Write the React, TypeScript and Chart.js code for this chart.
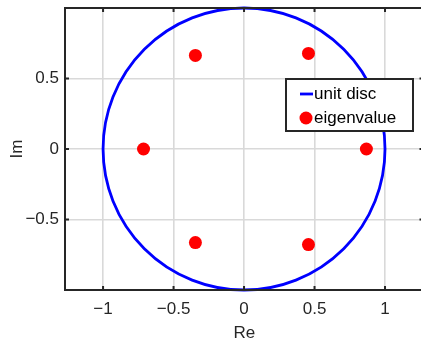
import React, { useEffect, useRef } from "react";
import { Chart, registerables } from "chart.js";

Chart.register(...registerables);

// ---- data ----
const eigenRe: number[] = [-0.713, -0.345, -0.345, 0.457, 0.457, 0.868];
const eigenIm: number[] = [0, 0.664, -0.664, 0.678, -0.678, 0];
const discCenter = { x: 0, y: 0 };
const discRadius = 1;
const xTickValues: number[] = [-1, -0.5, 0, 0.5, 1];
const yTickValues: number[] = [-0.5, 0, 0.5];
const seriesLabels: string[] = ["unit disc", "eigenvalue"];
const xTitle = "Re";
const yTitle = "Im";

const FONT = "'Liberation Sans', Arial, sans-serif";
const TXT = "#262626";

const fmt = (v: number) => (v < 0 ? "\u2212" + String(Math.abs(v)) : String(v));

const boxPlugin = {
  id: "matlabBox",
  afterDatasetsDraw(chart: any) {
    const { ctx, chartArea: a, scales } = chart;
    ctx.save();
    // tick marks (inward)
    ctx.strokeStyle = TXT;
    ctx.lineWidth = 2;
    const tl = 4;
    for (const v of xTickValues) {
      const px = scales.x.getPixelForValue(v);
      ctx.beginPath();
      ctx.moveTo(px, a.bottom);
      ctx.lineTo(px, a.bottom - tl);
      ctx.moveTo(px, a.top);
      ctx.lineTo(px, a.top + tl);
      ctx.stroke();
    }
    for (const v of yTickValues) {
      const py = scales.y.getPixelForValue(v);
      ctx.beginPath();
      ctx.moveTo(a.left, py);
      ctx.lineTo(a.left + tl, py);
      ctx.moveTo(a.right, py);
      ctx.lineTo(a.right - tl, py);
      ctx.stroke();
    }
    // box
    ctx.lineWidth = 2;
    ctx.strokeRect(a.left, a.top, a.right - a.left, a.bottom - a.top);

    // legend
    const ds = chart.data.datasets;
    const lx = 286;
    const ly = a.top + 71;
    const lw = 127;
    const lh = 52;
    ctx.fillStyle = "#ffffff";
    ctx.fillRect(lx, ly, lw, lh);
    ctx.lineWidth = 2;
    ctx.strokeStyle = TXT;
    ctx.strokeRect(lx, ly, lw, lh);
    const row1 = ly + 15;
    const row2 = ly + 39;
    // line sample
    ctx.strokeStyle = ds[0].pointBorderColor;
    ctx.lineWidth = 2.8;
    ctx.beginPath();
    ctx.moveTo(lx + 14, row1);
    ctx.lineTo(lx + 27, row1);
    ctx.stroke();
    // dot sample
    ctx.fillStyle = ds[1].pointBackgroundColor;
    ctx.beginPath();
    ctx.arc(lx + 20, row2, 6.5, 0, Math.PI * 2);
    ctx.fill();
    ctx.fillStyle = "#000000";
    ctx.font = `17px ${FONT}`;
    ctx.textBaseline = "middle";
    ctx.textAlign = "left";
    ctx.fillText(ds[0].label, lx + 28, row1);
    ctx.fillText(ds[1].label, lx + 28, row2);
    ctx.restore();
  },
};

export default function App() {
  const ref = useRef<HTMLCanvasElement | null>(null);
  useEffect(() => {
    if (!ref.current) return;
    const discPx = (c: any) => {
      const s = c.chart.scales.x;
      return s.getPixelForValue(discRadius) - s.getPixelForValue(0);
    };
    const chart = new Chart(ref.current, {
      type: "scatter",
      data: {
        datasets: [
          {
            label: seriesLabels[0],
            data: [discCenter],
            pointRadius: discPx,
            pointHoverRadius: discPx,
            pointBackgroundColor: "rgba(0,0,0,0)",
            pointBorderColor: "#0000ff",
            pointBorderWidth: 2.8,
            clip: false,
          } as any,
          {
            label: seriesLabels[1],
            data: eigenRe.map((x, i) => ({ x, y: eigenIm[i] })),
            pointRadius: 6.5,
            pointHoverRadius: 6.5,
            pointBackgroundColor: "#ff0000",
            pointBorderWidth: 0,
          } as any,
        ],
      },
      options: {
        animation: false,
        responsive: false,
        events: [],
        layout: { padding: { top: 8, right: 6.5, left: 0, bottom: 0 } },
        plugins: { legend: { display: false }, tooltip: { enabled: false } },
        scales: {
          x: {
            type: "linear",
            min: -1.27,
            max: 1.273,
            afterBuildTicks: (s: any) => {
              s.ticks = xTickValues.map((v) => ({ value: v }));
            },
            afterFit: (s: any) => {
              s.height = 48;
              s.paddingLeft = 0;
              s.paddingRight = 0;
            },
            grid: { color: "#d9d9d9", lineWidth: 1.6, drawTicks: false },
            border: { display: false },
            ticks: {
              padding: 9,
              color: TXT,
              font: { family: FONT, size: 17 },
              callback: (v: any) => fmt(Number(v)),
              maxRotation: 0,
            },
            title: {
              display: true,
              text: xTitle,
              color: TXT,
              font: { family: FONT, size: 17, lineHeight: 0.6 },
              padding: { top: 0, bottom: 0 },
            },
          },
          y: {
            type: "linear",
            min: -1,
            max: 1,
            afterBuildTicks: (s: any) => {
              s.ticks = yTickValues.map((v) => ({ value: v }));
            },
            afterFit: (s: any) => {
              s.width = 65;
              s.paddingTop = 0;
              s.paddingBottom = 0;
            },
            grid: { color: "#d9d9d9", lineWidth: 1.6, drawTicks: false },
            border: { display: false },
            ticks: {
              padding: 6,
              color: TXT,
              font: { family: FONT, size: 17 },
              callback: (v: any) => fmt(Number(v)),
            },
            title: {
              display: true,
              text: yTitle,
              color: TXT,
              font: { family: FONT, size: 17, lineHeight: 1.2 },
              padding: { top: 7, bottom: 0 },
            },
          },
        },
      },
      plugins: [boxPlugin],
    } as any);
    return () => chart.destroy();
  }, []);
  return (
    <div
      style={{
        position: "fixed",
        left: 0,
        top: 0,
        width: 421,
        height: 338,
        overflow: "hidden",
        background: "#ffffff",
      }}
    >
      <canvas ref={ref} width={430} height={338} style={{ width: 430, height: 338, display: "block" }} />
    </div>
  );
}
